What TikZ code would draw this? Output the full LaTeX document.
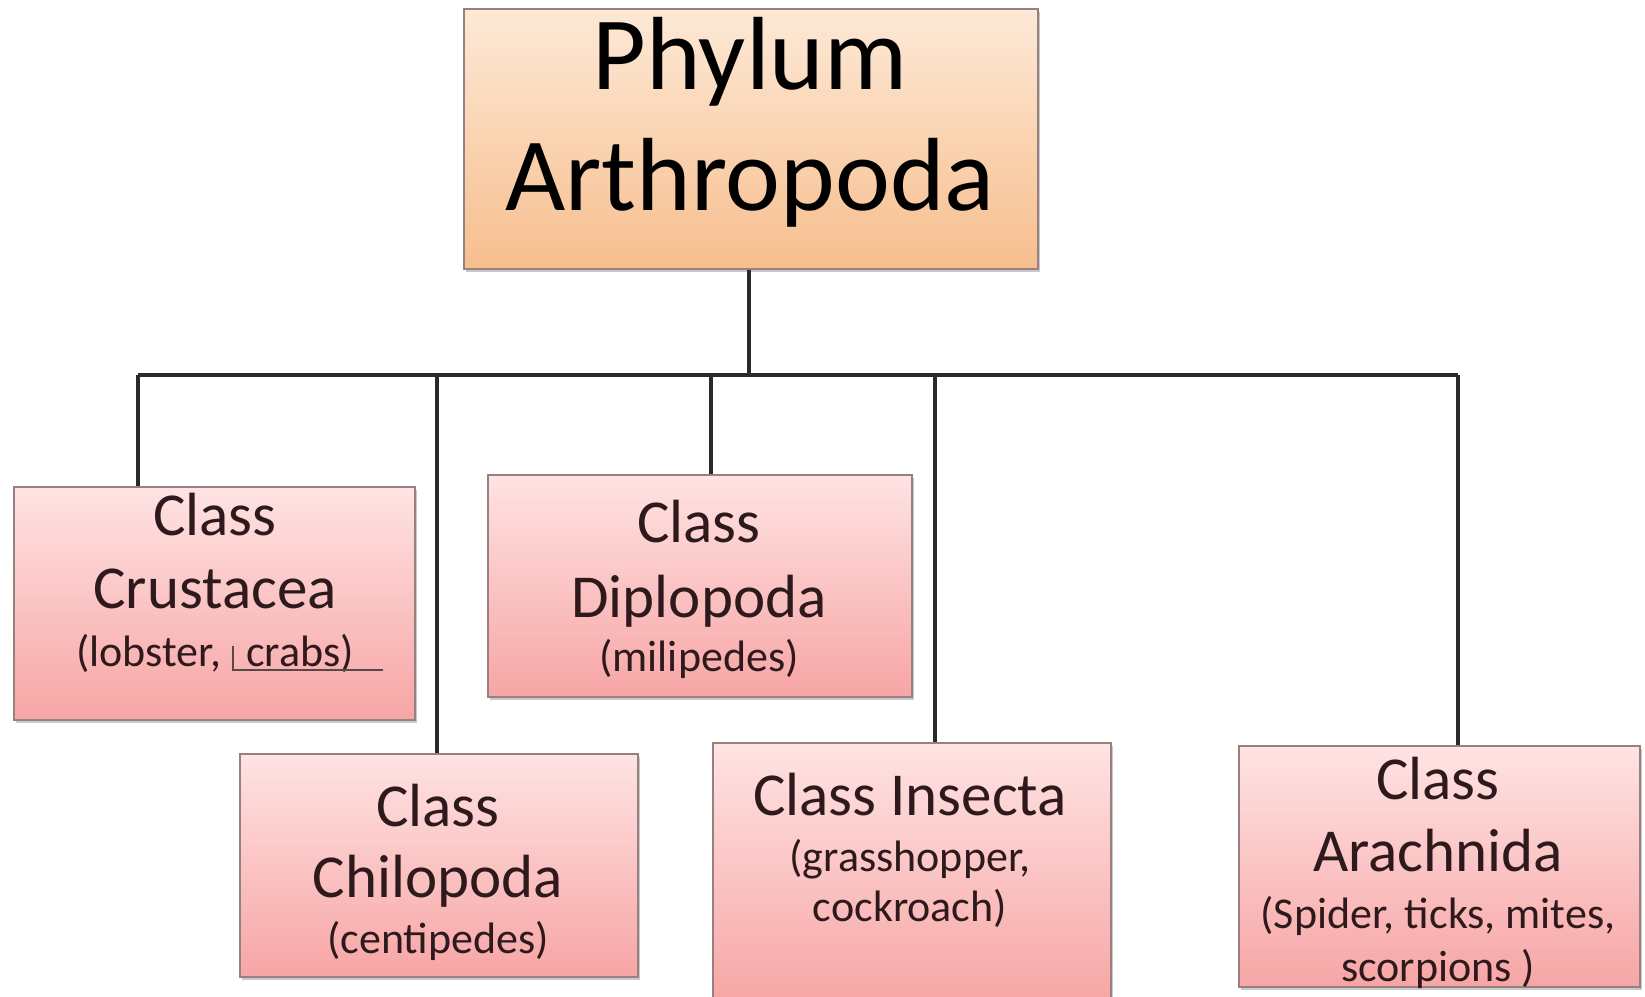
\documentclass[tikz,border=0pt]{standalone}
\usepackage{fontspec}
\setmainfont{Carlito}
\usetikzlibrary{shadows}
\definecolor{peachtop}{HTML}{FDE9D6}
\definecolor{peachbot}{HTML}{F7BE8E}
\definecolor{pinktop}{HTML}{FFE3E3}
\definecolor{pinkbot}{HTML}{F7A5A5}
\definecolor{boxline}{HTML}{998080}
\definecolor{linecol}{HTML}{2A2A2A}
\definecolor{txtcol}{HTML}{2E1A1C}
\tikzset{
  phybox/.style={draw=boxline, line width=1.5pt, top color=peachtop, bottom color=peachbot, anchor=north west, inner sep=0pt,
    drop shadow={shadow xshift=2pt, shadow yshift=-3pt, opacity=0.35, fill=black!60}},
  classbox/.style={draw=boxline, line width=1.8pt, top color=pinktop, bottom color=pinkbot, anchor=north west, inner sep=0pt,
    drop shadow={shadow xshift=2pt, shadow yshift=-3pt, opacity=0.35, fill=black!60}},
  bigtxt/.style={anchor=base, inner sep=0pt, text=black, font=\fontsize{104}{120}\selectfont},
  midtxt/.style={anchor=base, inner sep=0pt, text=txtcol, font=\fontsize{61}{72}\selectfont},
  smalltxt/.style={anchor=base, inner sep=0pt, text=txtcol, font=\fontsize{44}{50}\selectfont},
  conn/.style={draw=linecol, line width=3.6pt}
}
\begin{document}
\begin{tikzpicture}[x=1pt,y=-1pt]
\useasboundingbox[fill=white] (0,0) rectangle (1645,996);
% boxes
\node[phybox, minimum width=574pt, minimum height=260pt] (phy) at (463,8) {};
\node[classbox, minimum width=401pt, minimum height=233pt] (crus) at (13,486) {};
\node[classbox, minimum width=424pt, minimum height=222pt] (dipl) at (487,474) {};
\node[classbox, minimum width=398pt, minimum height=223pt] (chil) at (239,753) {};
\node[classbox, minimum width=398pt, minimum height=262pt] (inse) at (712,742) {};
\node[classbox, minimum width=401pt, minimum height=241pt] (arac) at (1238,745) {};
% connectors
\coordinate (hub) at (749,375);
\coordinate (d1) at (138,375);
\coordinate (d2) at (437,375);
\coordinate (d3) at (711,375);
\coordinate (d4) at (935,375);
\coordinate (d5) at (1458,375);
\draw[conn] (phy.south -| hub) -- (hub);
\draw[conn] (d1) -- (d5);
\draw[conn] (d1) -- (d1 |- crus.north);
\draw[conn] (d2) -- (d2 |- chil.north);
\draw[conn] (d3) -- (d3 |- dipl.north);
\draw[conn] (d4) -- (d4 |- inse.north);
\draw[conn] (d5) -- (d5 |- arac.north);
% texts
\node[bigtxt] (t1) at (750,89) {Phylum};
\node[bigtxt] (t2) at (750,210) {Arthropoda};
\node[midtxt] (c1a) at (215,535) {Class};
\node[midtxt] (c1b) at (215,608) {Crustacea};
\node[smalltxt] (c1c) at (215,666) {(lobster, \hspace{0.35em}crabs)};
\coordinate (u1) at (233,646);
\coordinate (u2) at (233,670);
\coordinate (u3) at (383,670);
\draw[draw=txtcol!80, line width=1.4pt] (u1) -- (u2) -- (u3);
\node[midtxt] (c2a) at (699,542) {Class};
\node[midtxt] (c2b) at (699,617) {Diplopoda};
\node[smalltxt] (c2c) at (699,671) {(milipedes)};
\node[midtxt] (c3a) at (438,826) {Class};
\node[midtxt] (c3b) at (438,897) {Chilopoda};
\node[smalltxt] (c3c) at (438,953) {(centipedes)};
\node[midtxt] (c4a) at (910,815) {Class Insecta};
\node[smalltxt] (c4b) at (910,871) {(grasshopper,};
\node[smalltxt] (c4c) at (910,921) {cockroach)};
\node[midtxt] (c5a) at (1438,799) {Class};
\node[midtxt] (c5b) at (1438,871) {Arachnida};
\node[smalltxt] (c5c) at (1438,928) {(Spider, ticks, mites,};
\node[smalltxt] (c5d) at (1438,981) {scorpions )};
\end{tikzpicture}
\end{document}
